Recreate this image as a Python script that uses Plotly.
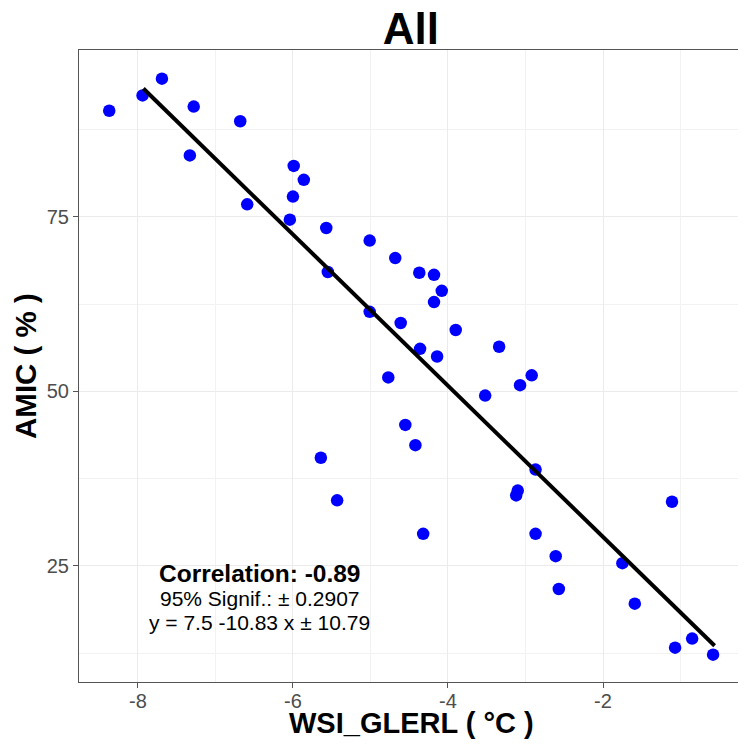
import plotly.graph_objects as go

# Data
wsi_glerl = [-8.37, -7.94, -7.69, -7.28, -7.33, -6.68, -6.59, -5.99, -5.86, -6.00,
             -6.04, -5.57, -5.55, -5.01, -5.01, -4.68, -4.61, -4.37, -4.18, -4.08,
             -4.18, -3.90, -4.36, -4.14, -3.34, -4.77, -3.52, -3.07, -2.92, -4.55,
             -4.42, -5.64, -5.43, -4.32, -2.87, -3.10, -3.12, -2.87, -2.61, -2.57,
             -1.11, -1.75, -1.59, -0.85, -1.07, -0.58]
amic = [90.2, 92.4, 94.8, 90.8, 83.8, 88.7, 76.8, 82.3, 80.3, 77.9,
        74.6, 73.4, 67.1, 71.6, 61.4, 69.1, 59.8, 67.0, 66.7, 64.4,
        62.8, 58.8, 56.1, 55.0, 56.4, 52.0, 49.4, 50.9, 52.3, 45.2,
        42.3, 40.5, 34.4, 29.6, 38.8, 35.8, 35.1, 29.6, 26.4, 21.7,
        34.2, 25.4, 19.6, 14.6, 13.3, 12.3]

fit_intercept = 7.5
fit_slope = -10.83
fit_x_range = [-7.93, -0.56]

title_text = "All"
x_title = "WSI_GLERL ( °C )"
y_title = "AMIC ( % )"
x_ticks = [-8, -6, -4, -2]
y_ticks = [25, 50, 75]
stat_lines = ["<b>Correlation: -0.89</b>", "95% Signif.: ± 0.2907", "y = 7.5 -10.83 x ± 10.79"]

fit_y = [fit_intercept + fit_slope * x for x in fit_x_range]

fig = go.Figure()
fig.add_trace(go.Scatter(x=wsi_glerl, y=amic, mode="markers",
                         marker=dict(color="#0000FF", size=12.5, line=dict(width=0)),
                         showlegend=False))
fig.add_trace(go.Scatter(x=fit_x_range, y=fit_y, mode="lines",
                         line=dict(color="black", width=4), showlegend=False))

font_family = "Liberation Sans, Arial, sans-serif"
sizes = [24.5, 21, 21]
ys = [23.9, 20.3, 16.9]
for txt, sz, yy in zip(stat_lines, sizes, ys):
    fig.add_annotation(x=-6.43, y=yy, xref="x", yref="y", text=txt, showarrow=False,
                       font=dict(family=font_family, size=sz, color="black"),
                       xanchor="center", yanchor="middle")

axis_common = dict(showline=True, linecolor="#555555", linewidth=1, mirror=True,
                   ticks="outside", ticklen=5, tickcolor="#555555", tickwidth=1,
                   showgrid=True, gridcolor="#EBEBEB", gridwidth=1.1,
                   zeroline=False, automargin=False,
                   tickfont=dict(family=font_family, size=20, color="#4D4D4D"))

fig.update_xaxes(range=[-8.76, -0.194], tickvals=x_ticks, ticktext=[str(t) for t in x_ticks],
                 minor=dict(dtick=1, tick0=0, showgrid=True, gridcolor="#F2F2F2", gridwidth=0.6, ticks=""),
                 ticklabelstandoff=-4,
                 **axis_common)
fig.update_yaxes(range=[8.38, 98.9], tickvals=y_ticks, ticktext=[str(t) for t in y_ticks],
                 minor=dict(dtick=12.5, tick0=0, showgrid=True, gridcolor="#F2F2F2", gridwidth=0.6, ticks=""),
                 **axis_common)

# Axis titles as paper annotations for precise placement
fig.add_annotation(x=0.5, y=0, xref="paper", yref="paper", yshift=-41,
                   text="<b>" + x_title + "</b>", showarrow=False,
                   font=dict(family=font_family, size=29, color="black"),
                   xanchor="center", yanchor="middle")
fig.add_annotation(x=0, y=0.5, xref="paper", yref="paper", xshift=-54,
                   text="<b>" + y_title + "</b>", showarrow=False, textangle=-90,
                   font=dict(family=font_family, size=29.5, color="black"),
                   xanchor="center", yanchor="middle")

# page body adds an 8px offset; figure is sized to fill the remaining window
fig.update_layout(
    width=738, height=740,
    margin=dict(l=71, r=3, t=42, b=66, autoexpand=False),
    paper_bgcolor="white", plot_bgcolor="white",
    title=dict(text="<b>" + title_text + "</b>", x=0.546, xanchor="center", y=0.972, yanchor="middle",
               font=dict(family=font_family, size=44, color="black")),
)

fig.write_html("out.html")
